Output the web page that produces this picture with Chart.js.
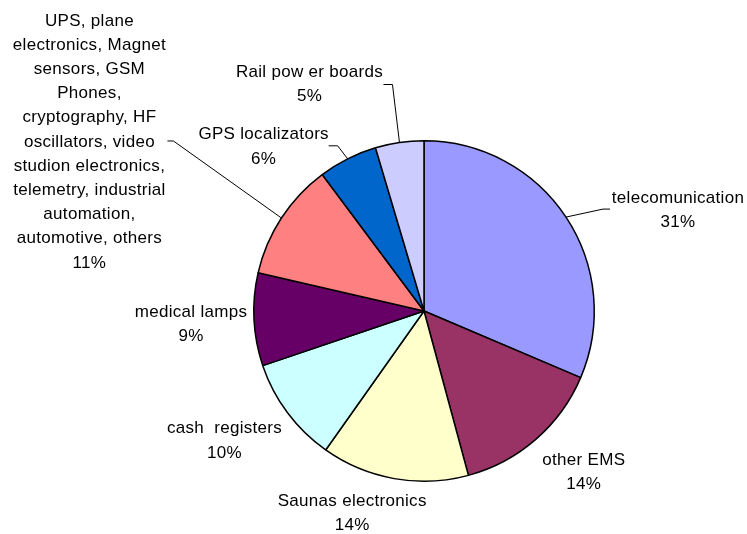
<!DOCTYPE html>
<html>
<head>
<meta charset="utf-8">
<script src="https://cdn.jsdelivr.net/npm/chart.js@4/dist/chart.umd.min.js"></script>
<style>
  html, body { margin: 0; padding: 0; background: #fff; }
  #wrap { width: 747px; height: 534px; position: relative; }
</style>
</head>
<body>
<div id="wrap"><canvas id="pieChart"></canvas></div>
<script>
// Catégories (lignes de texte telles qu'affichées)
const categories = [
    ['telecomunication'],
    ['other EMS'],
    ['Saunas electronics'],
    ['cash  registers'],
    ['medical lamps'],
    ['UPS, plane', 'electronics, Magnet', 'sensors, GSM', 'Phones,', 'cryptography, HF', 'oscillators, video', 'studion electronics,', 'telemetry, industrial', 'automation,', 'automotive, others'],
    ['GPS localizators'],
    ['Rail pow er boards']
];
// Parts (%)
const shares = [31.4, 14.4, 14.0, 10.0, 8.8, 11.2, 5.6, 4.6];
const colors = ['#9999FF', '#993366', '#FFFFCC', '#CCFFFF', '#660066', '#FF8080', '#0066CC', '#CCCCFF'];

// Position des étiquettes par rapport au point extérieur de chaque part
const labelOffsets = [[112, -8], [48, 32], [-42, 34], [-63, 27], [-63, 4], [-192, -77], [-84, -13], [-90, -59]];
// Lignes de rappel : coude relatif au centre de l'étiquette + petit segment horizontal
const leaders = [
    { ex: -75, ey: 0, hx: 7 },
    null, null, null, null,
    { ex: 84, ey: 0, hx: -6 },
    { ex: 74, ey: 0, hx: -9 },
    { ex: 83, ey: 1, hx: -9 }
];

const LINE_H = 24.2;

const labelPlugin = {
    id: 'sliceLabels',
    afterDraw(chart) {
        const ctx = chart.ctx;
        const meta = chart.getDatasetMeta(0);
        const data = chart.data.datasets[0].data;
        const total = data.reduce((a, b) => a + b, 0);
        ctx.save();
        ctx.font = '17px "Liberation Sans", Arial, sans-serif';
        if ('letterSpacing' in ctx) ctx.letterSpacing = '0.3px';
        ctx.fillStyle = '#000';
        ctx.textAlign = 'center';
        ctx.textBaseline = 'middle';
        meta.data.forEach((arc, i) => {
            const p = arc.getProps(['x', 'y', 'startAngle', 'endAngle', 'outerRadius'], true);
            const mid = (p.startAngle + p.endAngle) / 2;
            const ox = p.x + Math.cos(mid) * p.outerRadius;
            const oy = p.y + Math.sin(mid) * p.outerRadius;
            const lx = ox + labelOffsets[i][0];
            const ly = oy + labelOffsets[i][1];
            const lines = chart.data.labels[i].concat([Math.round(data[i] / total * 100) + '%']);
            const top = ly - (lines.length - 1) * LINE_H / 2;
            lines.forEach((t, k) => ctx.fillText(t, lx, top + k * LINE_H + 1));

            const ld = leaders[i];
            if (ld) {
                const bx = lx + ld.ex, by = ly + ld.ey;
                ctx.beginPath();
                ctx.strokeStyle = '#000';
                ctx.lineWidth = 1;
                ctx.moveTo(ox, oy);
                ctx.lineTo(bx, by);
                ctx.lineTo(bx + ld.hx, by);
                ctx.stroke();
            }
        });
        ctx.restore();
    }
};

new Chart(document.getElementById('pieChart'), {
    type: 'pie',
    data: {
        labels: categories,
        datasets: [{
            data: shares,
            backgroundColor: colors,
            borderColor: '#000',
            borderWidth: 1.5
        }]
    },
    options: {
        responsive: true,
        maintainAspectRatio: false,
        animation: false,
        layout: {
            padding: { top: 140, bottom: 52, left: 253, right: 152 }
        },
        plugins: {
            legend: { display: false },
            tooltip: { enabled: false }
        }
    },
    plugins: [labelPlugin]
});
</script>
</body>
</html>
